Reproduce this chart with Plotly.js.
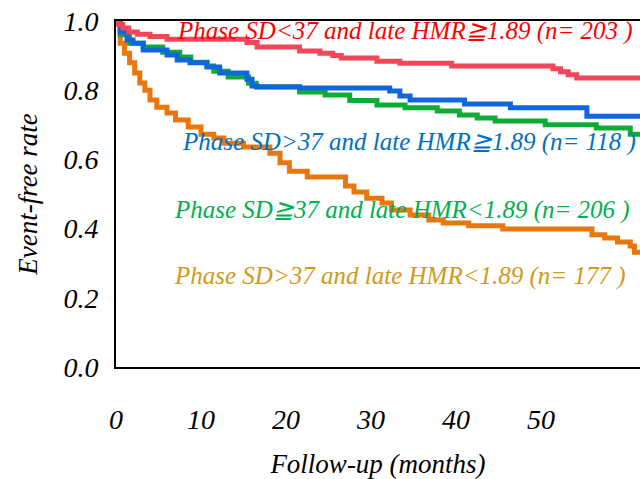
<!DOCTYPE html>
<html>
<head>
<meta charset="utf-8">
<script src="https://cdn.plot.ly/plotly-3.0.1.min.js"></script>
<style>html,body{margin:0;padding:0;background:#fff;overflow:hidden}</style>
</head>
<body>
<div id="chart" style="width:640px;height:479px"></div>
<script>
// Follow-up (months) and event-free rate for each group
const redT = [0, 0.3, 0.8, 1.5, 2.5, 4, 6, 15.4, 16.6, 21.6, 24, 25.5, 26.5, 30.7, 33.4, 39.5, 51.4, 52.3, 53.2, 54.2, 61.7];
const redS = [1.0, 0.99, 0.98, 0.968, 0.962, 0.955, 0.947, 0.938, 0.925, 0.913, 0.907, 0.90, 0.893, 0.884, 0.878, 0.870, 0.862, 0.853, 0.845, 0.835, 0.835];

const blueT = [0, 0.5, 1.3, 2, 3.2, 6, 7.2, 8.7, 10.7, 12.2, 15.4, 16, 16.6, 21.6, 32.2, 33.4, 34.6, 41, 46.4, 55.4, 61.7];
const blueS = [1.0, 0.968, 0.945, 0.936, 0.916, 0.902, 0.887, 0.879, 0.867, 0.850, 0.832, 0.812, 0.809, 0.806, 0.798, 0.783, 0.772, 0.760, 0.749, 0.725, 0.725];

const greenT = [0, 0.5, 1.6, 3.2, 5.5, 7.5, 8.8, 10.7, 11.5, 13.2, 15.6, 16.5, 21.6, 24.6, 27.5, 30.7, 34, 37.8, 40.4, 42.5, 44.6, 50.5, 56.5, 60.5, 61.7];
const greenS = [1.0, 0.96, 0.936, 0.925, 0.91, 0.896, 0.881, 0.87, 0.855, 0.838, 0.82, 0.81, 0.795, 0.786, 0.77, 0.757, 0.749, 0.740, 0.728, 0.72, 0.711, 0.70, 0.691, 0.673, 0.673];

const orangeT = [0, 0.5, 1.0, 1.6, 2.2, 2.8, 3.4, 4.0, 4.8, 6.0, 7.0, 8.5, 10.0, 11.5, 12.7, 15, 18.1, 19.3, 20.4, 22.5, 27, 28, 29.5, 31.3, 32.4, 34.6, 36.8, 38.5, 41.5, 45.5, 56, 57.5, 59, 60.5, 61, 61.7];
const orangeS = [1.0, 0.936, 0.907, 0.879, 0.85, 0.821, 0.80, 0.772, 0.751, 0.734, 0.714, 0.694, 0.673, 0.662, 0.647, 0.636, 0.618, 0.59, 0.566, 0.549, 0.523, 0.506, 0.488, 0.474, 0.454, 0.439, 0.425, 0.416, 0.408, 0.399, 0.382, 0.373, 0.361, 0.35, 0.332, 0.332];

const groupLabels = [
  "Phase SD<37 and late HMR≧1.89 (n= 203 )",
  "Phase SD>37 and late HMR≧1.89 (n= 118 )",
  "Phase SD≧37 and late HMR<1.89 (n= 206 )",
  "Phase SD>37 and late HMR<1.89 (n= 177 )"
];
const xTicks = [0, 10, 20, 30, 40, 50];
const yTicks = [0, 0.2, 0.4, 0.6, 0.8, 1.0];
const yTickText = ["0.0", "0.2", "0.4", "0.6", "0.8", "1.0"];

const serif = "'Liberation Serif', 'Times New Roman', Times, serif";
const mk = (x, y, color) => ({x: x, y: y, type: 'scatter', mode: 'lines',
  line: {shape: 'hv', color: color, width: 5}, showlegend: false, hoverinfo: 'skip', cliponaxis: false});

const data = [
  mk(orangeT, orangeS, '#e8770f'),
  mk(greenT, greenS, '#0fac35'),
  mk(blueT, blueS, '#1166de'),
  mk(redT, redS, '#f2475a')
];

const L = 116, T = 21, W = 524, H = 346;
const px = v => (v - L) / W;
const py = v => (T + H - v) / H;
const ann = (text, x, y, color) => ({text: text, xref: 'paper', yref: 'paper', x: px(x), y: py(y),
  xanchor: 'left', yanchor: 'middle', showarrow: false,
  font: {family: serif, size: 25, color: color, style: 'italic'}});

const layout = {
  width: 640, height: 479,
  margin: {l: L, r: 0, t: T, b: 479 - T - H},
  paper_bgcolor: '#fff', plot_bgcolor: '#fff',
  xaxis: {range: [0, 61.65], showgrid: false, zeroline: false, showline: true, mirror: true,
    linecolor: '#000', linewidth: 2, ticks: '', tickvals: xTicks, ticktext: xTicks.map(String),
    ticklabelstandoff: 26,
    tickfont: {family: serif, size: 28, color: '#000', style: 'italic'},
    title: {text: 'Follow-up (months)', standoff: 24,
      font: {family: serif, size: 27, color: '#000', style: 'italic'}}},
  yaxis: {range: [0, 1], showgrid: false, zeroline: false, showline: true, mirror: false,
    linecolor: '#000', linewidth: 2, ticks: '', tickvals: yTicks, ticktext: yTickText,
    ticklabelstandoff: 10,
    tickfont: {family: serif, size: 28, color: '#000', style: 'italic'},
    title: {text: 'Event-free rate', standoff: 18,
      font: {family: serif, size: 27, color: '#000', style: 'italic'}}},
  annotations: [
    ann(groupLabels[0], 175, 31, '#ff0000'),
    ann(groupLabels[1], 180, 142, '#0070c0'),
    ann(groupLabels[2], 172, 210, '#00b050'),
    ann(groupLabels[3], 172, 276, '#d09a18')
  ]
};

Plotly.newPlot('chart', data, layout, {staticPlot: true, displayModeBar: false});
</script>
</body>
</html>
